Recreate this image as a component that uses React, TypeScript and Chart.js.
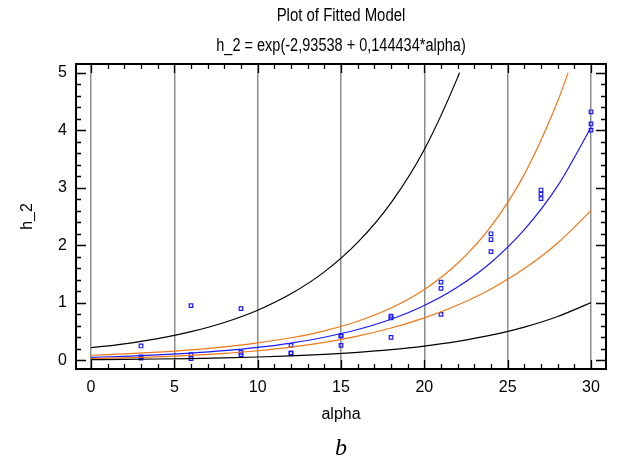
import { useEffect, useRef } from "react";
import { Chart, registerables } from "chart.js";

Chart.register(...registerables);

const TITLE = "Plot of Fitted Model";
const SUBTITLE = "h_2 = exp(-2,93538 + 0,144434*alpha)";
const X_LABEL = "alpha";
const Y_LABEL = "h_2";
const CAPTION = "b";

const X_TICKS = [0, 5, 10, 15, 20, 25, 30];
const Y_TICKS = [0, 1, 2, 3, 4, 5];

// observed data
const OBS_ALPHA = [3, 3, 3, 6, 6, 6, 9, 9, 9, 12, 12, 12, 15, 15, 15, 18, 18, 18, 21, 21, 21, 24, 24, 24, 27, 27, 27, 30, 30, 30];
const OBS_H2 = [0.25, 0.06, 0.04, 0.95, 0.1, 0.03, 0.9, 0.14, 0.1, 0.26, 0.13, 0.12, 0.43, 0.42, 0.26, 0.77, 0.74, 0.4, 1.36, 1.25, 0.8, 2.2, 2.1, 1.89, 2.96, 2.89, 2.81, 4.32, 4.11, 4.0];

// fitted curve and limits
const CURVE_ALPHA = [0, 2, 4, 6, 8, 10, 12, 14, 16, 18, 20, 22, 24, 26, 28, 30];
const FIT_H2 = [0.0531, 0.0709, 0.0947, 0.1264, 0.1687, 0.2252, 0.3006, 0.4013, 0.5357, 0.7152, 0.9547, 1.2745, 1.7014, 2.2712, 3.0319, 4.0474];
const CONF_LOWER = [0.0318, 0.0446, 0.0623, 0.0869, 0.1208, 0.1672, 0.2299, 0.3133, 0.4222, 0.5619, 0.7387, 0.9614, 1.2416, 1.5946, 2.04, 2.6026];
const CONF_UPPER_ALPHA = [0, 2, 4, 6, 8, 10, 12, 14, 16, 18, 20, 22, 24, 26, 28, 28.63];
const CONF_UPPER = [0.0887, 0.1128, 0.1438, 0.1837, 0.2354, 0.3031, 0.3928, 0.5137, 0.6793, 0.9097, 1.233, 1.6883, 2.3296, 3.2323, 4.5023, 5.0];
const PRED_LOWER = [0.0129, 0.0175, 0.0237, 0.032, 0.0432, 0.0581, 0.0781, 0.1047, 0.14, 0.1867, 0.2486, 0.3301, 0.4373, 0.5781, 0.7626, 1.0037];
const PRED_UPPER_ALPHA = [0, 2, 4, 6, 8, 10, 12, 14, 16, 18, 20, 22, 22.11];
const PRED_UPPER = [0.2195, 0.288, 0.3787, 0.499, 0.6589, 0.872, 1.1567, 1.5378, 2.0492, 2.7371, 3.6645, 4.9173, 5.0];

const FONT = '"Liberation Sans", Arial, sans-serif';

const pts = (xs: number[], ys: number[]) => xs.map((x, i) => ({ x, y: ys[i] }));

const drawNarrow = (ctx: CanvasRenderingContext2D, text: string, x: number, y: number, font: string, sx: number) => {
  ctx.save();
  ctx.translate(x, y);
  ctx.scale(sx, 1);
  ctx.font = font;
  ctx.textAlign = "center";
  ctx.textBaseline = "middle";
  ctx.fillText(text, 0, 0);
  ctx.restore();
};

const framePlugin = {
  id: "frame",
  afterDraw(chart: any) {
    const { ctx, chartArea: a, scales } = chart;
    const xs = scales.x;
    const ys = scales.y;
    ctx.save();
    ctx.strokeStyle = "#000";
    ctx.lineWidth = 1.3;
    ctx.beginPath();
    for (let v = 0; v <= 30; v += 1) {
      const px = Math.round(xs.getPixelForValue(v)) + 0.5;
      const len = v % 5 === 0 ? 9 : 5;
      ctx.moveTo(px, a.bottom);
      ctx.lineTo(px, a.bottom - len);
      ctx.moveTo(px, a.top);
      ctx.lineTo(px, a.top + len);
    }
    for (let i = 0; i <= 25; i++) {
      const v = i / 5;
      const py = Math.round(ys.getPixelForValue(v)) + 0.5;
      const len = i % 5 === 0 ? 10 : 5;
      ctx.moveTo(a.left, py);
      ctx.lineTo(a.left + len, py);
      ctx.moveTo(a.right, py);
      ctx.lineTo(a.right - len, py);
    }
    ctx.stroke();
    ctx.lineWidth = 2;
    ctx.strokeRect(a.left, a.top, a.right - a.left, a.bottom - a.top);

    const cx = (a.left + a.right) / 2;
    ctx.fillStyle = "#000";
    drawNarrow(ctx, TITLE, cx, 16, `18px ${FONT}`, 0.83);
    drawNarrow(ctx, SUBTITLE, cx, 46, `17.5px ${FONT}`, 0.83);
    ctx.font = `italic 24px "Liberation Serif", "Times New Roman", serif`;
    ctx.textAlign = "center";
    ctx.textBaseline = "middle";
    ctx.fillText(CAPTION, cx, 449);
    ctx.restore();
  },
};

export default function App() {
  const ref = useRef<HTMLCanvasElement | null>(null);

  useEffect(() => {
    if (!ref.current) return;
    const lineDs = (data: any[], color: string, width = 1.2) => ({
      type: "line" as const,
      data,
      borderColor: color,
      borderWidth: width,
      pointRadius: 0,
      fill: false,
      cubicInterpolationMode: "monotone" as const,
    });
    const chart = new Chart(ref.current, {
      type: "scatter",
      data: {
        datasets: [
          lineDs(pts(CURVE_ALPHA, PRED_LOWER), "#000000"),
          lineDs(pts(PRED_UPPER_ALPHA, PRED_UPPER), "#000000"),
          lineDs(pts(CURVE_ALPHA, CONF_LOWER), "#f07818"),
          lineDs(pts(CONF_UPPER_ALPHA, CONF_UPPER), "#f07818"),
          lineDs(pts(CURVE_ALPHA, FIT_H2), "#1a1aff"),
          {
            type: "scatter" as const,
            data: pts(OBS_ALPHA, OBS_H2),
            pointStyle: "rect",
            pointRadius: 2.5,
            borderColor: "#1a1aff",
            backgroundColor: "rgba(255,255,255,0)",
            borderWidth: 1.2,
          },
        ] as any,
      },
      options: {
        responsive: false,
        animation: false,
        devicePixelRatio: 1,
        layout: { padding: { top: 64, right: 12, bottom: 0, left: 0 } },
        plugins: {
          legend: { display: false },
          tooltip: { enabled: false },
          title: { display: false },
        },
        scales: {
          x: {
            type: "linear",
            min: -0.9,
            max: 30.9,
            afterBuildTicks: (s: any) => {
              s.ticks = X_TICKS.map((v) => ({ value: v }));
            },
            afterFit: (s: any) => {
              s.height = 94;
            },
            ticks: { color: "#000", font: { family: FONT, size: 16 }, padding: 9, maxRotation: 0, autoSkip: false },
            grid: { display: true, drawTicks: false, color: "#8c8c8c", lineWidth: 1.5 },
            border: { display: false },
            title: { display: true, text: X_LABEL, color: "#000", font: { family: FONT, size: 16 }, padding: { top: 0, bottom: 39 } },
          },
          y: {
            type: "linear",
            min: -0.15,
            max: 5.15,
            afterBuildTicks: (s: any) => {
              s.ticks = Y_TICKS.map((v) => ({ value: v }));
            },
            afterFit: (s: any) => {
              s.width = 76;
            },
            ticks: { color: "#000", font: { family: FONT, size: 16 }, padding: 9 },
            grid: { display: false, drawTicks: false },
            border: { display: false },
            title: { display: true, text: Y_LABEL, color: "#000", font: { family: FONT, size: 16 }, padding: { top: 18, bottom: 0 } },
          },
        },
      },
      plugins: [framePlugin],
    });
    return () => chart.destroy();
  }, []);

  return (
    <div style={{ position: "absolute", left: 0, top: 0, width: 618, height: 463, background: "#fff" }}>
      <canvas ref={ref} width={618} height={463} style={{ width: 618, height: 463, display: "block" }} />
    </div>
  );
}
